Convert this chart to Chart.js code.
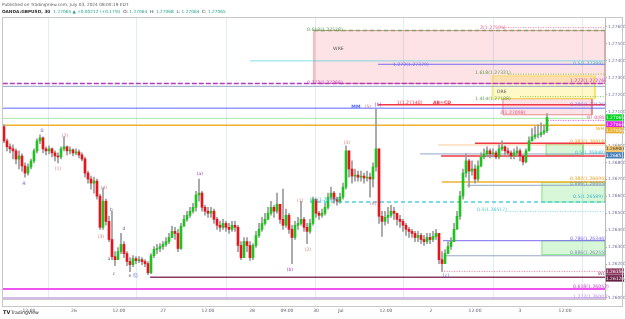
<!DOCTYPE html>
<html>
<head>
<meta charset="utf-8">
<script src="https://cdn.jsdelivr.net/npm/chart.js@4.4.1/dist/chart.umd.min.js"></script>
<style>
html, body { margin: 0; padding: 0; background: #fff; }
</style>
</head>
<body>
<canvas id="chart" width="625" height="319"></canvas>
<script>
// GBPUSD 30m candles (open of each bar = previous close)
const firstOpen = 1.27011;
const closes = [
  1.26927, 1.26892, 1.26880, 1.26868, 1.26820, 1.26838, 1.26779, 1.26737, 1.26773, 1.26809,
  1.26868, 1.26927, 1.26945, 1.26880, 1.26868, 1.26880, 1.26856, 1.26838, 1.26832, 1.26880,
  1.26892, 1.26868, 1.26874, 1.26856, 1.26862, 1.26844, 1.26820, 1.26737, 1.26702, 1.26678,
  1.26690, 1.26601, 1.26417, 1.26571, 1.26452, 1.26345, 1.26244, 1.26226, 1.26274, 1.26316,
  1.26262, 1.26215, 1.26197, 1.26232, 1.26221, 1.26226, 1.26215, 1.26203, 1.26149, 1.26250,
  1.26286, 1.26292, 1.26304, 1.26316, 1.26333, 1.26357, 1.26393, 1.26381, 1.26292, 1.26423,
  1.26464, 1.26488, 1.26512, 1.26535, 1.26607, 1.26619, 1.26535, 1.26512, 1.26500, 1.26512,
  1.26464, 1.26429, 1.26417, 1.26440, 1.26417, 1.26405, 1.26429, 1.26417, 1.26310, 1.26238,
  1.26333, 1.26310, 1.26238, 1.26310, 1.26369, 1.26405, 1.26440, 1.26464, 1.26500, 1.26535,
  1.26512, 1.26553, 1.26464, 1.26429, 1.26488, 1.26405, 1.26357, 1.26429, 1.26440, 1.26464,
  1.26417, 1.26393, 1.26440, 1.26583, 1.26500, 1.26488, 1.26500, 1.26535, 1.26595, 1.26619,
  1.26583, 1.26571, 1.26595, 1.26654, 1.26868, 1.26761, 1.26719, 1.26725, 1.26713, 1.26719,
  1.26708, 1.26713, 1.26702, 1.26773, 1.26880, 1.26482, 1.26452, 1.26476, 1.26488, 1.26512,
  1.26500, 1.26464, 1.26452, 1.26429, 1.26405, 1.26393, 1.26381, 1.26357, 1.26369, 1.26345,
  1.26333, 1.26357, 1.26345, 1.26363, 1.26381, 1.26226, 1.26203, 1.26262, 1.26304, 1.26333,
  1.26405, 1.26482, 1.26601, 1.26737, 1.26809, 1.26749, 1.26761, 1.26702, 1.26779, 1.26832,
  1.26850, 1.26868, 1.26850, 1.26856, 1.26832, 1.26880, 1.26892, 1.26868, 1.26856, 1.26838,
  1.26856, 1.26868, 1.26838, 1.26803, 1.26868, 1.26927, 1.26951, 1.26963, 1.26963, 1.26975,
  1.26987, 1.27065
];
const highs = [
  1.27022, 1.26939, 1.26910, 1.26904, 1.26880, 1.26868, 1.26850, 1.26797, 1.26791, 1.26820,
  1.26880, 1.26939, 1.26963, 1.26951, 1.26892, 1.26898, 1.26886, 1.26868, 1.26856, 1.26892,
  1.26951, 1.26898, 1.26892, 1.26880, 1.26880, 1.26874, 1.26856, 1.26832, 1.26749, 1.26719,
  1.26713, 1.26702, 1.26613, 1.26648, 1.26583, 1.26482, 1.26512, 1.26274, 1.26298, 1.26381,
  1.26333, 1.26274, 1.26238, 1.26250, 1.26244, 1.26244, 1.26238, 1.26226, 1.26215, 1.26262,
  1.26304, 1.26316, 1.26321, 1.26333, 1.26357, 1.26381, 1.26423, 1.26417, 1.26405, 1.26440,
  1.26488, 1.26512, 1.26535, 1.26559, 1.26630, 1.26702, 1.26630, 1.26547, 1.26535, 1.26535,
  1.26524, 1.26476, 1.26452, 1.26464, 1.26452, 1.26440, 1.26452, 1.26452, 1.26429, 1.26333,
  1.26357, 1.26357, 1.26333, 1.26321, 1.26393, 1.26440, 1.26476, 1.26500, 1.26535, 1.26571,
  1.26547, 1.26619, 1.26541, 1.26642, 1.26524, 1.26500, 1.26429, 1.26452, 1.26476, 1.26571,
  1.26476, 1.26440, 1.26464, 1.26595, 1.26583, 1.26512, 1.26524, 1.26559, 1.26619, 1.26654,
  1.26630, 1.26595, 1.26619, 1.26678, 1.26898, 1.26868, 1.26809, 1.26761, 1.26749, 1.26749,
  1.26737, 1.26749, 1.26737, 1.26797, 1.27117, 1.26880, 1.26512, 1.26512, 1.26535, 1.26547,
  1.26535, 1.26500, 1.26488, 1.26464, 1.26440, 1.26417, 1.26405, 1.26393, 1.26393, 1.26381,
  1.26369, 1.26381, 1.26381, 1.26393, 1.26405, 1.26381, 1.26274, 1.26286, 1.26333, 1.26357,
  1.26440, 1.26512, 1.26630, 1.26761, 1.26850, 1.26820, 1.26809, 1.26785, 1.26809, 1.26856,
  1.26880, 1.26892, 1.26880, 1.26880, 1.26868, 1.26904, 1.26927, 1.26898, 1.26886, 1.26868,
  1.26880, 1.26892, 1.26880, 1.26844, 1.26880, 1.26951, 1.26999, 1.27011, 1.27022, 1.27034,
  1.27022, 1.27088
];
const lows = [
  1.26916, 1.26868, 1.26856, 1.26820, 1.26791, 1.26761, 1.26749, 1.26713, 1.26725, 1.26761,
  1.26797, 1.26856, 1.26910, 1.26856, 1.26844, 1.26850, 1.26832, 1.26809, 1.26797, 1.26820,
  1.26868, 1.26844, 1.26850, 1.26838, 1.26844, 1.26826, 1.26809, 1.26713, 1.26678, 1.26642,
  1.26619, 1.26583, 1.26405, 1.26405, 1.26429, 1.26333, 1.26226, 1.26191, 1.26226, 1.26262,
  1.26238, 1.26191, 1.26155, 1.26185, 1.26203, 1.26209, 1.26197, 1.26185, 1.26137, 1.26143,
  1.26238, 1.26262, 1.26274, 1.26286, 1.26304, 1.26321, 1.26357, 1.26345, 1.26274, 1.26286,
  1.26429, 1.26452, 1.26476, 1.26500, 1.26512, 1.26571, 1.26512, 1.26488, 1.26476, 1.26476,
  1.26440, 1.26405, 1.26393, 1.26405, 1.26393, 1.26381, 1.26393, 1.26393, 1.26274, 1.26226,
  1.26238, 1.26274, 1.26221, 1.26226, 1.26298, 1.26357, 1.26393, 1.26429, 1.26464, 1.26488,
  1.26476, 1.26500, 1.26440, 1.26405, 1.26417, 1.26381, 1.26203, 1.26345, 1.26405, 1.26429,
  1.26393, 1.26321, 1.26381, 1.26429, 1.26476, 1.26464, 1.26476, 1.26488, 1.26524, 1.26583,
  1.26559, 1.26547, 1.26559, 1.26583, 1.26642, 1.26713, 1.26678, 1.26690, 1.26690, 1.26690,
  1.26678, 1.26690, 1.26595, 1.26654, 1.26749, 1.26440, 1.26363, 1.26429, 1.26440, 1.26476,
  1.26464, 1.26429, 1.26417, 1.26393, 1.26369, 1.26357, 1.26357, 1.26333, 1.26333, 1.26321,
  1.26310, 1.26321, 1.26321, 1.26333, 1.26345, 1.26203, 1.26155, 1.26203, 1.26262, 1.26286,
  1.26333, 1.26417, 1.26464, 1.26583, 1.26713, 1.26654, 1.26725, 1.26678, 1.26690, 1.26773,
  1.26820, 1.26832, 1.26826, 1.26832, 1.26820, 1.26820, 1.26868, 1.26844, 1.26832, 1.26820,
  1.26820, 1.26838, 1.26809, 1.26785, 1.26797, 1.26868, 1.26927, 1.26939, 1.26945, 1.26951,
  1.26963, 1.26975
];

// time axis (bar index positions)
const timeLabels = ['12:00', '26', '12:00', '27', '12:00', '28', '09:00', '30', 'Jul', '12:00', '2', '12:00', '3', '12:00'];
const timeTicks = [8.3, 23.3, 38.3, 53, 68, 82.7, 94.3, 104, 112.3, 127.3, 142.3, 157, 172, 187];
const dayLines = [14.7, 44.3, 74.3, 103.7, 133.3, 163, 192.7];
const priceTicks = [1.260, 1.261, 1.262, 1.263, 1.264, 1.265, 1.266, 1.267, 1.268, 1.269, 1.270, 1.271, 1.272, 1.273, 1.274, 1.275, 1.276];

// horizontal levels drawn on the chart
const levelPrice = [1.27595, 1.27578, 1.27399, 1.27379, 1.27321, 1.27266, 1.27249, 1.27188, 1.27140, 1.27120,
  1.27060, 1.27048, 1.27019, 1.26913, 1.26903, 1.26850, 1.26838, 1.26685, 1.26665, 1.26566,
  1.26511, 1.26338, 1.26249, 1.26157, 1.26122, 1.26053, 1.26000];
const levelFrom = [166.3, 103.3, 82, 124.7, 168, -0.4, -0.4, 172, 124.7, -0.4,
  -0.4, 181.3, -0.4, 157, 144.7, 138.7, 145.7, 146, 154.3, 102,
  167, 146.3, 146.7, 146.7, 48.7, -0.4, -0.4];
const levelTo = [200.4, 200.4, 200.4, 200.4, 200.4, 200.4, 200.4, 200.4, 200.4, 200.4,
  195.3, 200.4, 200.4, 200.4, 200.4, 200.4, 200.4, 200.4, 200.4, 200.4,
  200.4, 200.4, 200.4, 200.4, 200.4, 200.4, 200.4];
const levelKind = ['pinkDot', 'greenDash', 'teal', 'purple', 'greenDot', 'magenta', 'slate', 'greenDot', 'red', 'blue',
  'lightGreen', 'magentaDot', 'orange', 'red', 'tan', 'slate', 'red', 'orange', 'slate', 'cyanDash',
  'cyanDot', 'purple', 'slate', 'pinkDot', 'maroon', 'magentaThick', 'lavender'];

// zones (WRE, DRE, target boxes)
const zoneTop = [1.27578, 1.27310, 1.27176, 1.26908, 1.26682, 1.26338];
const zoneBottom = [1.27266, 1.27176, 1.27081, 1.26843, 1.26566, 1.26255];
const zoneFrom = [103.3, 162.7, 166.3, 180.7, 179.3, 179.3];
const zoneTo = [200.4, 197, 196, 193, 200.4, 200.4];
const zoneKind = ['pink', 'yellow', 'pink', 'green', 'green', 'green'];

// text on the chart: [text, bar, price, colour key, align]
const notes = [
  ['0.618(1.27578)', 101, 1.27583, 'green', 'left'],
  ['2(1.27595)', 158.7, 1.27596, 'pink', 'left'],
  ['WRE', 109.7, 1.27473, 'dark', 'left'],
  ['1.272(1.27379)', 129.7, 1.27375, 'purple', 'left'],
  ['0.5(1.27399)', 189.7, 1.27380, 'teal', 'left'],
  ['1.618(1.27321)', 157, 1.27328, 'green', 'left'],
  ['0.272(1.27266)', 101, 1.27272, 'magenta', 'left'],
  ['1.272(1.27276)', 188.7, 1.27280, 'magenta', 'left'],
  ['DRE', 164.3, 1.27218, 'dark', 'left'],
  ['1.414(1.27188)', 157, 1.27176, 'green', 'left'],
  ['0.786(1.27126)', 188.7, 1.27141, 'purple', 'left'],
  ['1(1.27140)', 131, 1.27153, 'red', 'left'],
  ['AB=CD', 143, 1.27153, 'redBold', 'left'],
  ['MM', 117.3, 1.27129, 'blueBold', 'center'],
  ['(5)', 121.3, 1.27129, 'pinkWave', 'center'],
  ['[b]', 124.7, 1.27141, 'violet', 'center'],
  ['2(1.27098)', 165.3, 1.27093, 'pink', 'left'],
  ['97.0(85)', 194.3, 1.27061, 'pink', 'left'],
  ['WH', 197.3, 1.26998, 'orange', 'left'],
  ['0.382(1.26918)', 188.7, 1.26921, 'orange', 'left'],
  ['0.5(1.26848)', 190.3, 1.26856, 'teal', 'left'],
  ['0.382(1.26695)', 188.7, 1.26701, 'orange', 'left'],
  ['0.886(1.26665)', 188.7, 1.26672, 'slate', 'left'],
  ['0.5(1.26589)', 189.7, 1.26600, 'teal', 'left'],
  ['0.5(1.26589)', 102, 1.26582, 'teal', 'left'],
  ['0.5(1.26517)', 157.7, 1.26523, 'cyan', 'left'],
  ['0.786(1.26346)', 188.7, 1.26351, 'purple', 'left'],
  ['0.886(1.26255)', 188.7, 1.26268, 'slate', 'left'],
  ['WL', 198, 1.26143, 'maroon', 'left'],
  ['0.618(1.26052)', 189.7, 1.26066, 'magenta', 'left'],
  ['1.272(1.26003)', 189.7, 1.26009, 'lavender', 'left'],
  ['\u2463', 6.7, 1.26672, 'wave', 'center'],
  ['\u2464', 12.7, 1.26986, 'wave', 'center'],
  ['(1)', 18, 1.26761, 'pinkWave', 'center'],
  ['(2)', 20.3, 1.26957, 'pinkWave', 'center'],
  ['(3)', 32.3, 1.26363, 'pinkWave', 'center'],
  ['(4)', 33.3, 1.26648, 'pinkWave', 'center'],
  ['a', 35, 1.26232, 'grey', 'center'],
  ['b', 35.7, 1.26523, 'grey', 'center'],
  ['c', 36.7, 1.26143, 'grey', 'center'],
  ['d', 40, 1.26410, 'grey', 'center'],
  ['e', 42, 1.26131, 'grey', 'center'],
  ['\u24b8', 43.7, 1.26131, 'wave', 'center'],
  ['(a)', 65.3, 1.26731, 'violet', 'center'],
  ['(b)', 95.3, 1.26167, 'violet', 'center'],
  ['(1)', 98.7, 1.26571, 'pinkWave', 'center'],
  ['(2)', 101.3, 1.26286, 'pinkWave', 'center'],
  ['(3)', 114.3, 1.26915, 'pinkWave', 'center'],
  ['(4)', 123, 1.26553, 'pinkWave', 'center'],
  ['[c]', 147.3, 1.26131, 'wave', 'center']
];

// boxes on the price scale
const markPrice = [1.27065, 1.27024, 1.26990, 1.26880, 1.26842, 1.26156, 1.26116];
const markText = ['1.27065', '1.27064', '1.27056', '1.26900', '1.26851', '1.26156', '1.26128'];
const markKind = ['green', 'magenta', 'orange', 'lightOrange', 'steel', 'maroon', 'darkMaroon'];

const lineStyles = {
  pinkDot: ['rgba(236,64,122,0.75)', 1, [1, 1.5]],
  greenDash: ['#7fa36c', 1.5, [4, 3]],
  teal: ['rgba(77,208,225,0.7)', 1, []],
  purple: ['#7b6cf0', 1, []],
  greenDot: ['#8bc34a', 1, [1, 1.5]],
  magenta: ['#b23bc0', 1.5, [5, 2]],
  slate: ['#91a7c4', 1, []],
  red: ['#f23645', 1.5, []],
  blue: ['#5c6bff', 1, []],
  lightGreen: ['rgba(130,225,130,0.75)', 1, []],
  magentaDot: ['#e040fb', 1, [1, 1.5]],
  orange: ['#f0b12e', 1.5, []],
  tan: ['rgba(245,185,120,0.75)', 1, []],
  cyanDash: ['#4dd0e1', 1.5, [4, 3]],
  cyanDot: ['#80deea', 1, [1, 1.5]],
  maroon: ['#8e3b63', 1.5, []],
  magentaThick: ['#ee55ee', 2, []],
  lavender: ['#c9a6e6', 1.5, []]
};
const zoneStyles = {
  pink: ['rgba(242,54,69,0.14)', 'rgba(229,115,115,0.8)'],
  yellow: ['rgba(255,235,59,0.28)', 'rgba(245,224,80,0.9)'],
  green: ['rgba(76,220,80,0.22)', 'rgba(120,220,120,0.9)']
};
const textColors = {
  green: '#5f9a4e', pink: '#e0568a', dark: '#555555', purple: '#7b6cf0', teal: '#3fb8c8',
  magenta: '#c040c8', red: '#f23645', redBold: '#f23645', blueBold: '#4a5cff', pinkWave: '#d88080',
  violet: '#a030c0', orange: '#e8a020', slate: '#7d93b0', cyan: '#4dc8d8', maroon: '#8e3b63',
  lavender: '#b890d8', wave: '#5a66e0', grey: '#606080'
};
const markColors = {
  green: '#00d21e', magenta: '#e020e8', orange: '#e8b030', lightOrange: '#f3c878',
  steel: '#4a7fb8', maroon: '#8e3b63', darkMaroon: '#6a1f45'
};

const upColor = '#1fc21f';
const downColor = '#e8141c';
const wickColor = '#9a9a9a';

const opens = closes.map((c, i) => i === 0 ? firstOpen : closes[i - 1]);

const datasets = [];

datasets.push({
  type: 'bar',
  data: closes.map((c, i) => ({ x: i, y: [opens[i], c] })),
  backgroundColor: closes.map((c, i) => c >= opens[i] ? upColor : downColor),
  barThickness: 2,
  grouped: false,
  order: 1
});
datasets.push({
  type: 'bar',
  data: closes.map((c, i) => ({ x: i, y: [lows[i], highs[i]] })),
  backgroundColor: wickColor,
  barThickness: 1,
  grouped: false,
  order: 2
});

levelPrice.forEach((p, i) => {
  const s = lineStyles[levelKind[i]];
  datasets.push({
    type: 'line',
    data: [{ x: levelFrom[i], y: p }, { x: levelTo[i], y: p }],
    borderColor: s[0],
    borderWidth: s[1],
    borderDash: s[2],
    pointRadius: 0,
    fill: false,
    order: 4
  });
});

zoneTop.forEach((top, i) => {
  const s = zoneStyles[zoneKind[i]];
  datasets.push({
    type: 'line',
    data: [{ x: zoneFrom[i], y: top }, { x: zoneTo[i], y: top }],
    borderColor: 'rgba(0,0,0,0)',
    borderWidth: 0,
    backgroundColor: s[0],
    pointRadius: 0,
    fill: { value: zoneBottom[i] },
    order: 6
  });
  datasets.push({
    type: 'line',
    data: [
      { x: zoneFrom[i], y: top }, { x: zoneTo[i], y: top },
      { x: zoneTo[i], y: zoneBottom[i] }, { x: zoneFrom[i], y: zoneBottom[i] },
      { x: zoneFrom[i], y: top }
    ],
    borderColor: s[1],
    borderWidth: 1,
    pointRadius: 0,
    fill: false,
    order: 5
  });
});

const FONT = '"DejaVu Sans", sans-serif';

const overlay = {
  id: 'overlay',
  beforeDraw(chart) {
    const ctx = chart.ctx;
    ctx.save();
    ctx.fillStyle = '#ffffff';
    ctx.fillRect(0, 0, chart.width, chart.height);
    ctx.restore();
  },
  afterDatasetsDraw(chart) {
    const { ctx, scales: { x, y } } = chart;
    ctx.save();
    ctx.textBaseline = 'middle';
    notes.forEach(n => {
      const bold = n[3] === 'redBold' || n[3] === 'blueBold';
      ctx.font = (bold ? 'bold ' : '') + '4.6px ' + FONT;
      ctx.fillStyle = textColors[n[3]];
      ctx.textAlign = n[4];
      ctx.fillText(n[0], x.getPixelForValue(n[1]), y.getPixelForValue(n[2]));
    });
    ctx.restore();
  },
  afterDraw(chart) {
    const { ctx, scales: { y }, chartArea } = chart;
    ctx.save();
    // price scale marks
    ctx.textBaseline = 'middle';
    ctx.textAlign = 'center';
    ctx.font = '4.4px ' + FONT;
    markPrice.forEach((p, i) => {
      const py = y.getPixelForValue(p);
      ctx.fillStyle = markColors[markKind[i]];
      ctx.fillRect(chartArea.right + 1, py - 3.2, 18, 6.4);
      ctx.fillStyle = markKind[i] === 'lightOrange' ? '#333' : '#fff';
      ctx.fillText(markText[i], chartArea.right + 10, py + 0.2);
    });
    // frame
    ctx.strokeStyle = '#c8c8c8';
    ctx.lineWidth = 1;
    ctx.strokeRect(2.5, 17.5, 620, 289);
    // header
    ctx.textAlign = 'left';
    ctx.font = '4.3px ' + FONT;
    ctx.fillStyle = '#606060';
    ctx.fillText('Published on TradingView.com, July 03, 2024 08:00:19 EDT', 2, 5);
    let cx = 2;
    const seg = (t, c, bold) => {
      ctx.font = (bold ? 'bold ' : '') + '4.3px ' + FONT;
      ctx.fillStyle = c;
      ctx.fillText(t, cx, 11.5);
      cx += ctx.measureText(t).width;
    };
    seg('OANDA:GBPUSD, 30  ', '#303030', true);
    seg('1.27065 \u25b2 +0.00212 (+0.17%)  ', '#22a08a');
    seg('O: ', '#303030'); seg('1.27064  ', '#22a08a');
    seg('H: ', '#303030'); seg('1.27068  ', '#22a08a');
    seg('L: ', '#303030'); seg('1.27064  ', '#22a08a');
    seg('C: ', '#303030'); seg('1.27065', '#22a08a');
    // footer logo
    ctx.font = 'bold 5px ' + FONT;
    ctx.fillStyle = '#222';
    ctx.fillText('TV', 3, 313);
    ctx.font = '4.6px ' + FONT;
    ctx.fillText('TradingView', 11, 313);
    ctx.restore();
  }
};

new Chart(document.getElementById('chart'), {
  type: 'bar',
  data: { datasets: datasets },
  plugins: [overlay],
  options: {
    responsive: false,
    devicePixelRatio: 1,
    animation: false,
    events: [],
    layout: { padding: { left: 3, right: 0, top: 17, bottom: 0 } },
    plugins: {
      legend: { display: false },
      tooltip: { enabled: false }
    },
    scales: {
      x: {
        type: 'linear',
        position: 'bottom',
        offset: false,
        min: -0.33,
        max: 200.33,
        afterBuildTicks: s => { s.ticks = timeTicks.map(v => ({ value: v })); },
        afterFit: s => { s.height = 20; },
        ticks: {
          autoSkip: false,
          maxRotation: 0,
          padding: 1,
          color: '#5a5a6a',
          font: { size: 4.5, family: FONT },
          callback: (v, i) => timeLabels[i]
        },
        grid: { display: false, offset: false },
        border: { display: true, color: '#c8c8c8' }
      },
      xg: {
        type: 'linear',
        position: 'bottom',
        offset: false,
        min: -0.33,
        max: 200.33,
        afterBuildTicks: s => { s.ticks = dayLines.map(v => ({ value: v })); },
        afterFit: s => { s.height = 0; },
        ticks: { display: false },
        grid: { color: '#e3ebf5', drawTicks: false, offset: false },
        border: { display: false }
      },
      y: {
        type: 'linear',
        position: 'right',
        min: 1.25994,
        max: 1.27658,
        afterBuildTicks: s => { s.ticks = priceTicks.map(v => ({ value: v })); },
        afterFit: s => { s.width = 20; },
        ticks: {
          padding: 1,
          color: '#6a6f9a',
          font: { size: 4.3, family: FONT },
          callback: v => v.toFixed(5)
        },
        grid: { drawOnChartArea: false, tickLength: 2, color: '#b0b0b0' },
        border: { display: true, color: '#b8b8b8' }
      }
    }
  }
});
</script>
</body>
</html>
